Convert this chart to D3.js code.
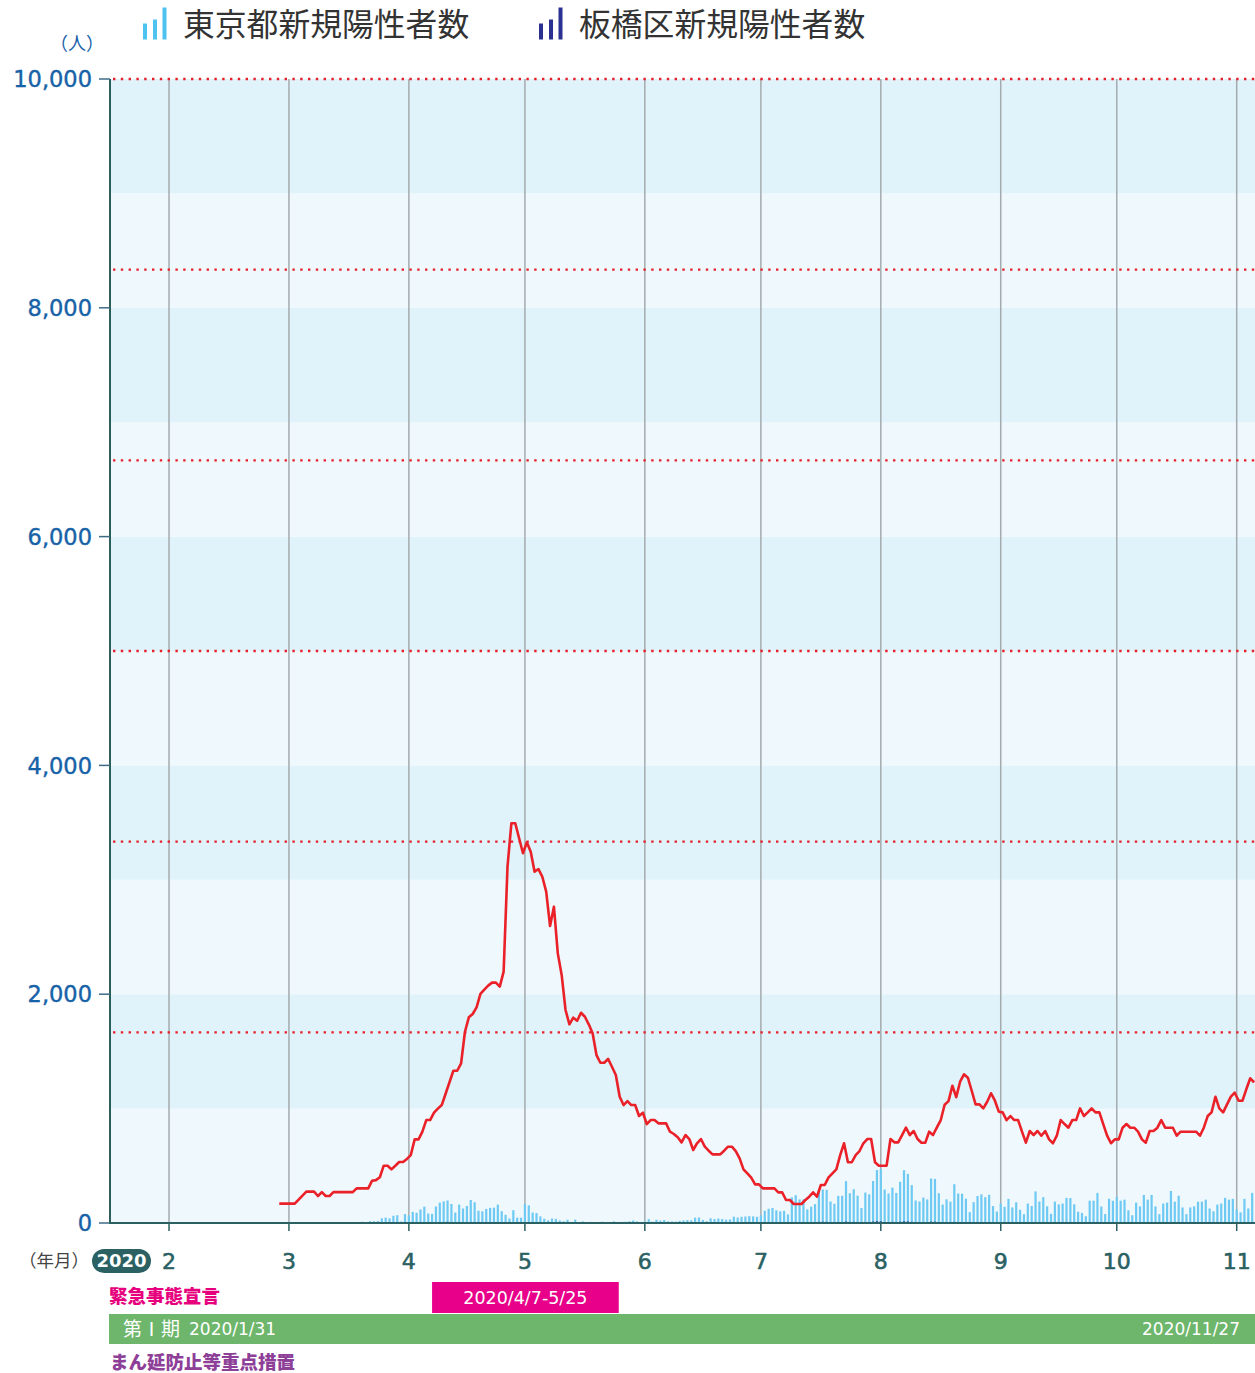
<!DOCTYPE html>
<html lang="ja">
<head>
<meta charset="utf-8">
<script src="https://cdn.jsdelivr.net/npm/d3@7"></script>
<style>
  html, body { margin: 0; padding: 0; background: #fff; }
  svg { display: block; }
  text { font-family: "DejaVu Sans", "Noto Sans", sans-serif; }
  .jp { font-family: "Noto Sans CJK JP", sans-serif; }
</style>
</head>
<body>
<svg id="chart" width="1255" height="1373"></svg>
<script>
// ---- data ----
const legendLabels = ['東京都新規陽性者数', '板橋区新規陽性者数'];
const yTicks = [0, 2000, 4000, 6000, 8000, 10000];
const redGridTicks = [10, 20, 30, 40, 50, 60];       // secondary scale 0-60
// month gridlines; the first one sits at the end of January in the source chart
const monthTickDates = ['2020-01-30', '2020-03-01', '2020-04-01', '2020-05-01', '2020-06-01',
  '2020-07-01', '2020-08-01', '2020-09-01', '2020-10-01', '2020-11-01'];
const monthTickLabels = ['2', '3', '4', '5', '6', '7', '8', '9', '10', '11'];

const tokyoStart = '2020-01-24';
const tokyoDaily = [
  1, 1, 0, 0, 0, 0, 1, 0,                                                   // Jan 24-31
  0, 0, 0, 0, 0, 0, 0, 0, 0, 0, 0, 0, 1, 2, 8, 5, 0, 3, 3, 1, 3, 1, 1, 3, 0, 3, 1, 1, 3, // Feb
  1, 1, 3, 4, 8, 6, 2, 6, 2, 1, 7, 1, 2, 2, 1, 0, 6, 9, 6, 11, 7, 16, 16, 17, 41, 47, 40, 63, 68, 13, 78, // Mar
  66, 97, 89, 118, 143, 83, 80, 144, 178, 189, 197, 166, 91, 161, 127, 149, 201, 181, 107, 102,
  123, 132, 134, 161, 103, 72, 39, 112, 47, 46,                               // Apr
  165, 154, 91, 87, 58, 38, 23, 39, 36, 22, 15, 28, 10, 30, 9, 14, 5, 10, 5, 5, 11, 3, 2, 14, 8,
  10, 11, 15, 22, 14, 5,                                                      // May
  13, 34, 12, 28, 20, 26, 14, 13, 12, 18, 22, 25, 24, 47, 48, 27, 16, 41, 35, 39, 35, 29, 31, 55,
  48, 54, 57, 60, 58, 54,                                                     // Jun
  67, 107, 124, 131, 111, 102, 106, 75, 224, 243, 206, 206, 119, 143, 165, 286, 293, 290, 188, 168,
  237, 238, 366, 260, 295, 239, 131, 266, 250, 367, 463,                      // Jul
  472, 292, 258, 309, 263, 360, 462, 429, 331, 197, 188, 222, 206, 389, 385, 260, 161, 207, 186, 339,
  258, 256, 212, 95, 182, 236, 250, 226, 247, 148, 100,                       // Aug
  170, 141, 211, 136, 181, 116, 77, 170, 149, 276, 187, 226, 146, 80, 187, 163, 170, 220, 218, 163,
  98, 88, 59, 195, 195, 263, 144, 78, 212, 194,                               // Sep
  229, 195, 204, 111, 68, 178, 145, 245, 204, 245, 145, 77, 170, 178, 280, 186, 238, 136, 77, 136,
  145, 186, 186, 204, 127, 102, 161, 170, 220, 204, 211,                      // Oct
  118, 93, 211, 127, 263                                                      // Nov 1-5
];

const itabashiStart = '2020-03-01';
const itabashiDaily = [
  0, 0, 0, 0, 1, 0, 0, 0, 0, 0, 0, 0, 0, 0, 0, 0, 0, 0, 0, 0, 0, 1, 0, 0, 1, 2, 1, 2, 3, 1, 4,
  3, 5, 4, 6, 8, 4, 3, 7, 9, 8, 10, 8, 4, 7, 6, 7, 9, 8, 5, 4, 6, 5, 6, 7, 5, 3, 2, 5, 2, 2,
  6, 5, 4, 3, 2, 2, 1, 2, 1, 1, 0, 1, 0, 1, 0, 0, 0, 1, 0, 0, 0, 0, 0, 1, 0, 0, 0, 1, 1, 0, 0,
  0, 1, 0, 1, 1, 1, 0, 0, 0, 1, 1, 1, 1, 2, 2, 1, 0, 1, 1, 2, 1, 1, 1, 2, 2, 2, 2, 3, 2, 2,
  3, 4, 5, 5, 4, 4, 4, 3, 8, 9, 7, 7, 5, 6, 6, 10, 11, 10, 7, 6, 9, 8, 12, 9, 10, 8, 5, 9, 9, 12, 15,
  14, 9, 8, 10, 9, 11, 14, 13, 10, 7, 6, 8, 7, 12, 11, 8, 6, 7, 6, 10, 8, 8, 7, 4, 6, 8, 8, 7, 8, 5, 4,
  6, 5, 7, 5, 6, 4, 3, 6, 5, 9, 6, 7, 5, 3, 6, 6, 6, 7, 7, 5, 4, 3, 2, 6, 6, 8, 5, 3, 7, 6,
  7, 6, 7, 4, 3, 6, 5, 8, 7, 8, 5, 3, 6, 6, 9, 6, 8, 5, 3, 5, 5, 6, 6, 7, 4, 4, 5, 6, 7, 7, 7,
  4, 3, 7, 4, 8
];

// red line, in units of the left axis, one point per day
const redLineStart = '2020-02-27';
const redLine = [
  169, 169, 169, 169, 169, 205, 240, 274, 274, 274, 236, 270, 236, 236, 270, 270, 270, 270, 270, 270,
  303, 303, 303, 303, 370, 375, 400, 501, 501, 469, 500, 533, 533, 560, 594, 731, 731, 798, 900, 900,
  964, 1000, 1031, 1130, 1230, 1331, 1331, 1396, 1672, 1798, 1827, 1885, 2002, 2040, 2075, 2101, 2101, 2066, 2197, 3115,
  3494, 3494, 3363, 3232, 3328, 3246, 3071, 3094, 3027, 2896, 2596, 2765, 2357, 2168, 1862, 1737, 1795, 1768, 1838, 1803,
  1737, 1658, 1468, 1401, 1401, 1434, 1366, 1294, 1104, 1031, 1066, 1031, 1031, 935, 964, 865, 900, 900, 871, 871,
  871, 798, 778, 749, 705, 769, 734, 638, 697, 734, 667, 632, 600, 600, 600, 632, 667, 667, 629, 565,
  469, 434, 396, 338, 338, 303, 303, 303, 303, 268, 268, 201, 201, 166, 166, 166, 201, 230, 268, 230,
  332, 332, 399, 434, 469, 594, 697, 531, 531, 594, 629, 697, 734, 734, 531, 501, 501, 501, 734, 705,
  705, 769, 833, 769, 804, 734, 702, 702, 798, 769, 836, 900, 1034, 1065, 1200, 1100, 1235, 1300, 1270, 1156,
  1037, 1037, 1002, 1060, 1134, 1069, 973, 967, 900, 935, 900, 900, 798, 702, 804, 769, 804, 763, 804, 731,
  697, 763, 900, 865, 833, 900, 900, 1002, 935, 967, 1002, 967, 967, 865, 763, 697, 731, 731, 833, 865,
  833, 833, 798, 731, 702, 804, 804, 833, 900, 833, 833, 833, 763, 798, 798, 798, 798, 798, 763, 833,
  935, 967, 1104, 1002, 967, 1037, 1104, 1139, 1069, 1069, 1171, 1265, 1230
];

const emergencyPeriod = ['2020-04-07', '2020-05-25'];
const emergencyLabel = '2020/4/7-5/25';
const phaseLabels = ['第Ⅰ期', '2020/1/31', '2020/11/27'];

// ---- chart ----
const plotLeft = 110, plotRight = 1255, plotTop = 79, plotBottom = 1223;
const parse = d3.utcParse('%Y-%m-%d');
const svg = d3.select('#chart');

const x = d3.scaleUtc()
  .domain([parse('2020-01-15'), parse('2020-11-01')])
  .range([111, 1236.7]);
const y = d3.scaleLinear().domain([0, 10000]).range([plotBottom, plotTop]);
const y2 = d3.scaleLinear().domain([0, 60]).range([plotBottom, plotTop]);
const halfDay = (x(parse('2020-03-02')) - x(parse('2020-03-01'))) / 2;

const series = (start, values) => values.map((v, i) => ({date: d3.utcDay.offset(parse(start), i), v}));
const tokyo = series(tokyoStart, tokyoDaily);
const itabashi = series(itabashiStart, itabashiDaily);
const red = series(redLineStart, redLine);

svg.append('defs').append('clipPath').attr('id', 'plot')
  .append('rect').attr('x', plotLeft).attr('y', plotTop - 5)
  .attr('width', plotRight - plotLeft).attr('height', plotBottom - plotTop + 5);

// background bands
const bands = d3.range(0, 10000, 1000);
svg.append('g').selectAll('rect').data(bands).join('rect')
  .attr('x', plotLeft).attr('width', plotRight - plotLeft)
  .attr('y', d => y(d + 1000)).attr('height', d => y(d) - y(d + 1000))
  .attr('fill', d => (d / 1000) % 2 === 1 ? '#e0f2fa' : '#eff8fd');

// month gridlines
const monthDates = monthTickDates.map(parse);
svg.append('g').selectAll('line').data(monthDates).join('line')
  .attr('x1', d => x(d)).attr('x2', d => x(d))
  .attr('y1', plotTop).attr('y2', plotBottom)
  .attr('stroke', '#a4abae').attr('stroke-width', 1.5);

// red dotted grid (secondary scale)
svg.append('g').selectAll('line').data(redGridTicks).join('line')
  .attr('x1', plotLeft + 3).attr('x2', plotRight)
  .attr('y1', d => y2(d)).attr('y2', d => y2(d))
  .attr('stroke', '#e5202a').attr('stroke-width', 2.4)
  .attr('stroke-dasharray', '2.4 5.4');

const plot = svg.append('g').attr('clip-path', 'url(#plot)');
const barW = 2.2;
plot.append('g').selectAll('rect').data(tokyo.filter(d => d.v > 0)).join('rect')
  .attr('x', d => x(d.date) - barW / 2).attr('width', barW)
  .attr('y', d => y(d.v)).attr('height', d => plotBottom - y(d.v))
  .attr('fill', '#6fcaf3');
plot.append('g').selectAll('rect').data(itabashi.filter(d => d.v > 0)).join('rect')
  .attr('x', d => x(d.date) - barW / 2).attr('width', barW)
  .attr('y', d => y(d.v)).attr('height', d => plotBottom - y(d.v))
  .attr('fill', '#2b2e8c');

const line = d3.line().x(d => x(d.date) + halfDay).y(d => y(d.v));
plot.append('path').datum(red)
  .attr('d', line).attr('fill', 'none')
  .attr('stroke', '#ea2128').attr('stroke-width', 2.6).attr('stroke-linejoin', 'round');

// y axis
svg.append('line').attr('x1', plotLeft).attr('x2', plotLeft).attr('y1', plotTop).attr('y2', plotBottom + 1)
  .attr('stroke', '#2c5e5c').attr('stroke-width', 2);
const yAxis = svg.append('g');
yAxis.selectAll('line').data(yTicks).join('line')
  .attr('x1', 99).attr('x2', plotLeft).attr('y1', d => y(d)).attr('y2', d => y(d))
  .attr('stroke', '#3e6b86').attr('stroke-width', 1.5);
yAxis.selectAll('text').data(yTicks).join('text')
  .attr('x', 92).attr('y', d => y(d)).attr('dy', '0.36em')
  .attr('text-anchor', 'end').attr('font-size', 22.5)
  .attr('fill', '#1762a7').attr('stroke', '#1762a7').attr('stroke-width', 0.4)
  .text(d3.format(','));
svg.append('text').attr('class', 'jp').attr('x', 77).attr('y', 44).attr('dy', '0.35em')
  .attr('text-anchor', 'middle').attr('font-size', 18).attr('fill', '#1762a7').text('（人）');

// x axis
svg.append('line').attr('x1', plotLeft - 1).attr('x2', plotRight).attr('y1', plotBottom).attr('y2', plotBottom)
  .attr('stroke', '#2b6163').attr('stroke-width', 2);
const xAxis = svg.append('g');
xAxis.selectAll('line').data(monthDates).join('line')
  .attr('x1', d => x(d)).attr('x2', d => x(d)).attr('y1', plotBottom).attr('y2', plotBottom + 8)
  .attr('stroke', '#2b6163').attr('stroke-width', 1.5);
xAxis.selectAll('text').data(monthDates).join('text')
  .attr('x', d => x(d)).attr('y', 1261).attr('dy', '0.36em')
  .attr('text-anchor', 'middle').attr('font-size', 22)
  .attr('fill', '#2b6163').attr('stroke', '#2b6163').attr('stroke-width', 0.6)
  .text((d, i) => monthTickLabels[i]);
svg.append('text').attr('class', 'jp').attr('x', 19).attr('y', 1261).attr('dy', '0.35em')
  .attr('font-size', 17.5).attr('fill', '#444').text('（年月）');
svg.append('rect').attr('x', 92).attr('y', 1249).attr('width', 59).attr('height', 24).attr('rx', 12)
  .attr('fill', '#2b6163');
svg.append('text').attr('x', 121.5).attr('y', 1261).attr('dy', '0.36em').attr('text-anchor', 'middle')
  .attr('font-size', 18).attr('font-weight', 700).attr('fill', '#fff').text('2020');

// legend
const legendX = [143, 539];
const legendColors = ['#4fc3f0', '#2b3190'];
const iconBars = [[0, 16], [10, 20], [19.5, 32]];
legendLabels.forEach((label, i) => {
  const g = svg.append('g').attr('transform', `translate(${legendX[i]},0)`);
  g.selectAll('rect').data(iconBars).join('rect')
    .attr('x', d => d[0]).attr('width', 4)
    .attr('y', d => 39.5 - d[1]).attr('height', d => d[1])
    .attr('fill', legendColors[i]);
  g.append('text').attr('class', 'jp').attr('x', 40).attr('y', 25).attr('dy', '0.35em')
    .attr('font-size', 31.8).attr('fill', '#333').text(label);
});

// period bands below the axis
svg.append('text').attr('class', 'jp').attr('x', 109).attr('y', 1297).attr('dy', '0.35em')
  .attr('font-size', 18.5).attr('font-weight', 900).attr('fill', '#e6007e').text('緊急事態宣言');
const e0 = x(parse(emergencyPeriod[0])), e1 = x(parse(emergencyPeriod[1])) + 1;
svg.append('rect').attr('x', e0).attr('y', 1282).attr('width', e1 - e0).attr('height', 31)
  .attr('fill', '#e8008a');
svg.append('text').attr('x', (e0 + e1) / 2).attr('y', 1298).attr('dy', '0.36em').attr('text-anchor', 'middle')
  .attr('font-size', 17.5).attr('fill', '#fff').text(emergencyLabel);

svg.append('rect').attr('x', plotLeft - 1).attr('y', 1314).attr('width', plotRight - plotLeft + 1).attr('height', 30)
  .attr('fill', '#6db66b');
svg.append('text').attr('class', 'jp').attr('x', 123).attr('y', 1329).attr('dy', '0.35em')
  .attr('font-size', 19).attr('fill', '#fff').text(phaseLabels[0]);
svg.append('text').attr('x', 189).attr('y', 1329).attr('dy', '0.36em')
  .attr('font-size', 17).attr('fill', '#fff').text(phaseLabels[1]);
svg.append('text').attr('x', 1240).attr('y', 1329).attr('dy', '0.36em').attr('text-anchor', 'end')
  .attr('font-size', 17).attr('fill', '#fff').text(phaseLabels[2]);

svg.append('text').attr('class', 'jp').attr('x', 110).attr('y', 1363).attr('dy', '0.35em')
  .attr('font-size', 18.5).attr('font-weight', 900).attr('fill', '#8e3f98').text('まん延防止等重点措置');
</script>
</body>
</html>
